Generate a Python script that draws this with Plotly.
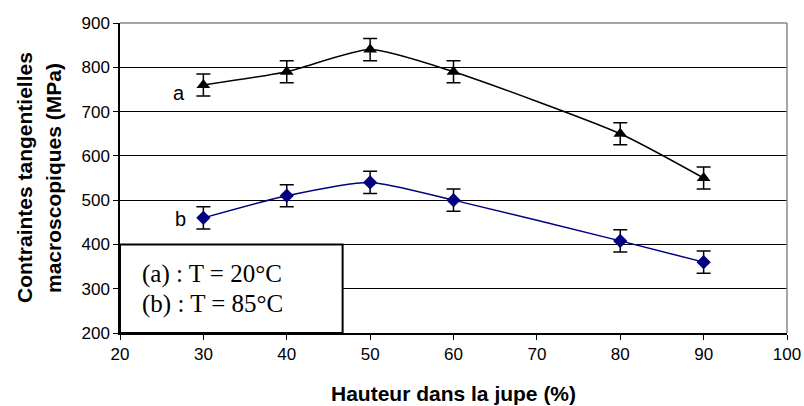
import plotly.graph_objects as go

x_vals = [30, 40, 50, 60, 80, 90]
series_a = [760, 790, 840, 790, 650, 550]
series_b = [460, 510, 540, 500, 408, 360]
err_a = [25, 25, 25, 25, 25, 25]
err_b = [25, 25, 25, 25, 25, 25]
x_ticks = [20, 30, 40, 50, 60, 70, 80, 90, 100]
y_ticks = [200, 300, 400, 500, 600, 700, 800, 900]
legend_lines = ["(a) : T = 20°C", "(b) : T = 85°C"]
y_title_lines = ["Contraintes tangentielles", "macroscopiques (MPa)"]
x_title = "Hauteur dans la jupe (%)"

W, H = 804, 406
ML, MR, MT, MB = 120, 17, 23, 73
PW, PH = W - ML - MR, H - MT - MB

SANS = "Liberation Sans, Arial"
SERIF = "Liberation Serif, Times New Roman"

fig = go.Figure()
fig.add_trace(go.Scatter(
    x=x_vals, y=series_a, mode="lines+markers",
    line=dict(color="black", width=1.5, shape="spline", smoothing=0.6),
    marker=dict(symbol="triangle-up", size=12, color="black"),
    error_y=dict(type="data", array=err_a, color="black", thickness=1.5, width=7),
    showlegend=False))
fig.add_trace(go.Scatter(
    x=x_vals, y=series_b, mode="lines+markers",
    line=dict(color="#000080", width=1.5, shape="spline", smoothing=0.6),
    marker=dict(symbol="diamond", size=11, color="#000080"),
    error_y=dict(type="data", array=err_b, color="black", thickness=1.5, width=7),
    showlegend=False))

fig.add_annotation(x=x_vals[0], y=series_a[0], xref="x", yref="y", text="a", showarrow=False,
                   xshift=-24, yshift=-8, font=dict(family=SANS, size=20, color="black"))
fig.add_annotation(x=x_vals[0], y=series_b[0], xref="x", yref="y", text="b", showarrow=False,
                   xshift=-23, yshift=-1, font=dict(family=SANS, size=20, color="black"))

# legend box
fig.add_shape(type="rect", xref="x", yref="y", x0=20, x1=46.7, y0=200, y1=400,
              line=dict(color="black", width=2), fillcolor="white", layer="above")
for txt, yc in zip(legend_lines, [274, 304]):
    fig.add_annotation(x=(140 - ML) / PW, y=(MT + PH - yc) / PH, xref="paper", yref="paper",
                       text=txt, showarrow=False, xanchor="left", yanchor="middle",
                       font=dict(family=SERIF, size=25, color="black"))

# axis titles
for txt, xc in zip(y_title_lines, [24, 53]):
    fig.add_annotation(x=(xc - ML) / PW, y=0.5, xref="paper", yref="paper", text="<b>%s</b>" % txt,
                       showarrow=False, textangle=-90, xanchor="center", yanchor="middle",
                       font=dict(family=SANS, size=21, color="black"))
fig.add_annotation(x=0.5, y=(MT + PH - 393) / PH, xref="paper", yref="paper", text="<b>%s</b>" % x_title,
                   showarrow=False, xanchor="center", yanchor="middle",
                   font=dict(family=SANS, size=21, color="black"))

fig.update_layout(
    width=W, height=H,
    margin=dict(l=ML, r=MR, t=MT, b=MB, autoexpand=False),
    paper_bgcolor="white", plot_bgcolor="white",
    font=dict(family=SANS, size=17, color="black"),
    xaxis=dict(range=[20, 100], tickvals=x_ticks, showgrid=False, zeroline=False, automargin=False,
               showline=True, linecolor="black", linewidth=1.5, ticks="outside", ticklen=5,
               tickcolor="black", tickfont=dict(size=17)),
    yaxis=dict(range=[200, 900], tickvals=y_ticks, showgrid=True, gridcolor="black", gridwidth=1,
               zeroline=False, showline=True, linecolor="black", linewidth=1.5, automargin=False,
               ticks="outside", ticklen=5, tickcolor="black", tickfont=dict(size=17)),
)
fig.add_shape(type="line", xref="paper", yref="paper", x0=0, x1=1, y0=1, y1=1,
              line=dict(color="#888888", width=1.5))
fig.add_shape(type="line", xref="paper", yref="paper", x0=1, x1=1, y0=0, y1=1,
              line=dict(color="#888888", width=1.5))

fig.write_html("out.html", config={"displayModeBar": False})

# remove the default page margin so the figure sits at the window's top-left corner
with open("out.html", "r", encoding="utf-8") as f:
    html = f.read()
html = html.replace("<body>", '<body style="margin:0;padding:0;overflow:hidden">', 1)
with open("out.html", "w", encoding="utf-8") as f:
    f.write(html)
